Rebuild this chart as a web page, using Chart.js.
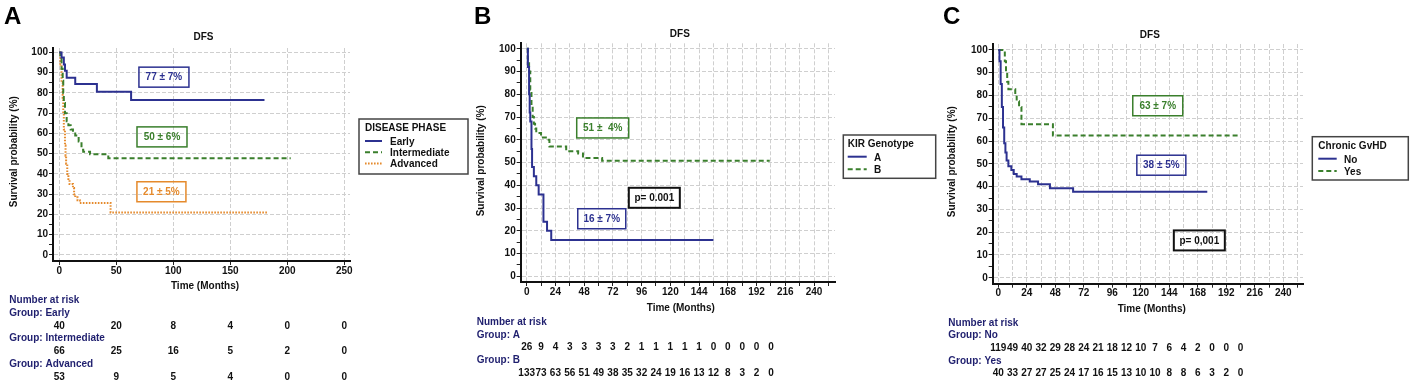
<!DOCTYPE html>
<html>
<head>
<meta charset="utf-8">
<script src="https://cdn.jsdelivr.net/npm/chart.js@4.4.1/dist/chart.umd.min.js"></script>
<style>
html, body { margin: 0; padding: 0; background: #fff; }
#wrap { position: relative; width: 1412px; height: 383px; overflow: hidden; background: #fff; }
canvas { position: absolute; top: 0; }
</style>
</head>
<body>
<div id="wrap">
  <canvas id="panelA" width="470" height="383" style="left:0px"></canvas>
  <canvas id="panelB" width="470" height="383" style="left:470px"></canvas>
  <canvas id="panelC" width="472" height="383" style="left:940px"></canvas>
</div>
<script>
// ---------- data ----------
// Panel A - disease phase (time in months, survival %)
var earlyTime = [0, 2, 4, 5, 6.5, 14, 33, 63, 180];
var earlySurv = [100, 97.5, 94, 91, 87.5, 84.4, 80.6, 76.5, 76.5];
var interTime = [0, 1, 2, 3, 3.5, 4, 5, 6.5, 8, 10, 12, 14, 17, 19.5, 21, 27, 43, 203];
var interSurv = [100, 97, 92, 86, 80, 75, 70, 66, 64, 62, 60, 59, 56, 52, 51, 49.7, 47.8, 47.8];
var advTime = [0, 1, 2, 3, 3.5, 4, 5, 5.5, 6, 7, 8, 9, 12, 13, 14, 16, 18, 45, 183];
var advSurv = [100, 94, 85, 77, 70, 62, 54, 49, 45, 40, 37, 35, 33, 30, 28.5, 27, 25.7, 21, 21];

// Panel B - KIR genotype
var kirATime = [0, 1, 2, 2.5, 3, 4, 4.5, 6, 8, 10, 14, 17, 20.5, 156];
var kirASurv = [100, 92, 80, 72, 68, 56, 48, 44, 40, 36, 24, 20, 16, 16];
var kirBTime = [0, 1, 2, 3, 4, 5, 6, 7, 8, 12, 16, 19, 33, 43, 47, 63, 203];
var kirBSurv = [100, 95, 90, 82, 75, 70, 67, 65, 63, 61, 60, 57, 55, 54, 52, 50.8, 50.8];

// Panel C - chronic GvHD
var gvhdNoTime = [0, 1, 2, 3, 4, 5, 6, 7, 8.5, 11, 13, 15.5, 19.5, 26.5, 33.5, 43.5, 63, 176];
var gvhdNoSurv = [100, 95, 85, 75, 66, 59, 55, 51.5, 49, 47.3, 45.5, 44.4, 43.2, 42.2, 41, 39.3, 37.8, 37.8];
var gvhdYesTime = [0, 5.5, 6.5, 7.5, 8.5, 14.3, 15.5, 17.5, 19.5, 46, 204];
var gvhdYesSurv = [100, 95, 90, 86, 82.7, 80, 77.5, 75, 67.4, 62.4, 62.4];

// number at risk tables
var riskTimesA = [0, 50, 100, 150, 200, 250];
var riskEarly = [40, 20, 8, 4, 0, 0];
var riskInter = [66, 25, 16, 5, 2, 0];
var riskAdv = [53, 9, 5, 4, 0, 0];

var riskTimesB = [0, 12, 24, 36, 48, 60, 72, 84, 96, 108, 120, 132, 144, 156, 168, 180, 192, 204];
var riskKirA = [26, 9, 4, 3, 3, 3, 3, 2, 1, 1, 1, 1, 1, 0, 0, 0, 0, 0];
var riskKirB = [133, 73, 63, 56, 51, 49, 38, 35, 32, 24, 19, 16, 13, 12, 8, 3, 2, 0];

var riskTimesC = riskTimesB;
var riskNo = [119, 49, 40, 32, 29, 28, 24, 21, 18, 12, 10, 7, 6, 4, 2, 0, 0, 0];
var riskYes = [40, 33, 27, 27, 25, 24, 17, 16, 15, 13, 10, 10, 8, 8, 6, 3, 2, 0];

// ---------- styling ----------
var FONT = '"Liberation Sans", Arial, sans-serif';
var BLUE = '#2c3190';
var GREEN = '#3a7f2c';
var ORANGE = '#e58a2c';
var NAVY = '#1f1f6e';
var GRID = '#cfcfcf';

var STYLES = {
    blue: { color: BLUE, dash: [] },
    green: { color: GREEN, dash: [5, 3] },
    orange: { color: ORANGE, dash: [1.6, 1.4] }
};

function pts(t, s) {
    return t.map(function (v, i) { return { x: v, y: s[i] }; });
}

function kmSet(label, t, s, style) {
    var st = STYLES[style];
    return {
        label: label,
        data: pts(t, s),
        borderColor: st.color,
        borderDash: st.dash,
        borderWidth: 2,
        stepped: 'before',
        pointRadius: 0,
        fill: false
    };
}

function txt(ctx, s, x, y, font, color, align) {
    ctx.font = font;
    ctx.fillStyle = color;
    ctx.textAlign = align || 'left';
    ctx.textBaseline = 'alphabetic';
    ctx.fillText(s, x, y);
}

function extras(p) {
    return {
        id: 'extras',
        afterDraw: function (chart) {
            var ctx = chart.ctx, a = chart.chartArea, xs = chart.scales.x, ys = chart.scales.y;
            var bold10 = 'bold 10px ' + FONT;
            ctx.save();

            txt(ctx, p.letter, p.letterX, 24, 'bold 24px ' + FONT, '#000');
            txt(ctx, 'DFS', (a.left + a.right) / 2 + 2, p.titleY, bold10, '#111', 'center');

            // axis titles
            ctx.save();
            ctx.translate(p.yTitle[0], p.yTitle[1]);
            ctx.rotate(-Math.PI / 2);
            ctx.font = bold10;
            ctx.fillStyle = '#111';
            ctx.textAlign = 'center';
            ctx.textBaseline = 'middle';
            ctx.fillText('Survival probability (%)', 0, 0);
            ctx.restore();
            txt(ctx, 'Time (Months)', p.xTitle[0], p.xTitle[1], bold10, '#111', 'center');

            // estimate boxes
            p.boxes.forEach(function (b) {
                var cx = xs.getPixelForValue(b.t), cy = ys.getPixelForValue(b.s);
                ctx.lineWidth = b.lw || 1.5;
                ctx.strokeStyle = b.color;
                ctx.setLineDash([]);
                ctx.strokeRect(cx - b.w / 2, cy - 10, b.w, 20);
                ctx.font = bold10;
                ctx.fillStyle = b.color;
                ctx.textAlign = 'center';
                ctx.textBaseline = 'middle';
                ctx.fillText(b.text, cx, cy + 0.5);
            });

            // legend
            var L = p.legend;
            ctx.lineWidth = 1.5;
            ctx.strokeStyle = '#444';
            ctx.setLineDash([]);
            ctx.strokeRect(L.box[0], L.box[1], L.box[2] - L.box[0], L.box[3] - L.box[1]);
            txt(ctx, L.title, L.x0, L.titleY, bold10, '#111');
            L.items.forEach(function (it, i) {
                var st = STYLES[it.style];
                var ly = L.lineY + i * L.step;
                ctx.beginPath();
                ctx.strokeStyle = st.color;
                ctx.lineWidth = 2;
                ctx.setLineDash(st.dash);
                ctx.moveTo(L.x0, ly);
                ctx.lineTo(L.x1, ly);
                ctx.stroke();
                ctx.setLineDash([]);
                txt(ctx, it.label, L.labelX, ly + 3.8, bold10, '#111');
            });

            // number at risk
            var R = p.risk, y = R.y0;
            txt(ctx, 'Number at risk', R.x, y, bold10, NAVY);
            R.groups.forEach(function (g) {
                y += R.step;
                txt(ctx, 'Group: ' + g.name, R.x, y, bold10, NAVY);
                y += R.step;
                g.values.forEach(function (v, i) {
                    txt(ctx, String(v), xs.getPixelForValue(R.times[i]), y, bold10, '#111', 'center');
                });
            });
            ctx.restore();
        }
    };
}

function gridColor(major) {
    return function (c) {
        return c.tick && Math.abs(c.tick.value % major) < 1e-6 ? GRID : 'rgba(0,0,0,0)';
    };
}

function buildPanel(canvasId, datasets, p) {
    var el = document.getElementById(canvasId);
    var tickFont = { family: FONT, size: 10, weight: 'bold' };
    return new Chart(el, {
        type: 'line',
        data: { datasets: datasets },
        options: {
            responsive: false,
            animation: false,
            layout: { padding: p.pad },
            plugins: { legend: { display: false }, tooltip: { enabled: false } },
            scales: {
                x: {
                    type: 'linear',
                    min: p.xMin,
                    max: p.xMax,
                    afterFit: function (s) { s.height = 30; },
                    ticks: {
                        stepSize: p.xStep,
                        autoSkip: false,
                        maxRotation: 0,
                        includeBounds: false,
                        padding: 0,
                        color: '#111',
                        font: tickFont,
                        callback: function (v) { return v % p.xLabelStep === 0 ? String(v) : ''; }
                    },
                    grid: { color: GRID, lineWidth: 1, tickLength: 4, tickColor: '#222' },
                    border: { display: true, color: '#111', width: 2, dash: [4, 2] }
                },
                y: {
                    type: 'linear',
                    min: p.yMin,
                    max: p.yMax,
                    afterFit: function (s) { s.width = p.yWidth; },
                    ticks: {
                        stepSize: 5,
                        autoSkip: false,
                        includeBounds: false,
                        padding: 1,
                        color: '#111',
                        font: tickFont,
                        callback: function (v) { return v % 10 === 0 ? String(v) : ''; }
                    },
                    grid: { color: gridColor(10), lineWidth: 1, tickLength: 4, tickColor: '#222' },
                    border: { display: true, color: '#111', width: 2, dash: [4, 2] }
                }
            }
        },
        plugins: [extras(p)]
    });
}

// Panel A
buildPanel('panelA', [
    kmSet('Early', earlyTime, earlySurv, 'blue'),
    kmSet('Intermediate', interTime, interSurv, 'green'),
    kmSet('Advanced', advTime, advSurv, 'orange')
], {
    letter: 'A', letterX: 4, titleY: 40,
    pad: { left: 0, top: 48, right: 120, bottom: 92 }, yWidth: 53,
    xMin: -5.5, xMax: 255, xStep: 50, xLabelStep: 50, yMin: -3, yMax: 102.2,
    yTitle: [14.2, 151.7], xTitle: [205, 289],
    boxes: [
        { text: '77 \u00b1 7%', t: 91.8, s: 87.8, w: 50, color: BLUE },
        { text: '50 \u00b1 6%', t: 90.1, s: 58.3, w: 50, color: GREEN },
        { text: '21 \u00b1 5%', t: 89.6, s: 31.2, w: 49, color: ORANGE }
    ],
    legend: {
        box: [359, 119, 468, 174], title: 'DISEASE PHASE', titleY: 130.7,
        x0: 365, x1: 382, labelX: 390, lineY: 141, step: 11.3,
        items: [{ label: 'Early', style: 'blue' }, { label: 'Intermediate', style: 'green' }, { label: 'Advanced', style: 'orange' }]
    },
    risk: {
        x: 9.3, y0: 303, step: 12.8, times: riskTimesA,
        groups: [{ name: 'Early', values: riskEarly }, { name: 'Intermediate', values: riskInter }, { name: 'Advanced', values: riskAdv }]
    }
});

// Panel B
buildPanel('panelB', [
    kmSet('A', kirATime, kirASurv, 'blue'),
    kmSet('B', kirBTime, kirBSurv, 'green')
], {
    letter: 'B', letterX: 4, titleY: 37,
    pad: { left: 0, top: 43.3, right: 105, bottom: 71 }, yWidth: 50.7,
    xMin: -5, xMax: 257.5, xStep: 12, xLabelStep: 24, yMin: -2.5, yMax: 102.4,
    yTitle: [11.2, 160.8], xTitle: [210.8, 310.5],
    boxes: [
        { text: '51 \u00b1  4%', t: 63.5, s: 65.2, w: 52, color: GREEN },
        { text: 'p= 0.001', t: 106.6, s: 34.5, w: 51, color: '#111', lw: 2 },
        { text: '16 \u00b1 7%', t: 62.7, s: 25.3, w: 48, color: BLUE }
    ],
    legend: {
        box: [373.3, 135, 465.7, 178.3], title: 'KIR Genotype', titleY: 147,
        x0: 377.7, x1: 396.7, labelX: 404, lineY: 156.7, step: 12.6,
        items: [{ label: 'A', style: 'blue' }, { label: 'B', style: 'green' }]
    },
    risk: {
        x: 6.7, y0: 325, step: 12.7, times: riskTimesB,
        groups: [{ name: 'A', values: riskKirA }, { name: 'B', values: riskKirB }]
    }
});

// Panel C
buildPanel('panelC', [
    kmSet('No', gvhdNoTime, gvhdNoSurv, 'blue'),
    kmSet('Yes', gvhdYesTime, gvhdYesSurv, 'green')
], {
    letter: 'C', letterX: 3, titleY: 38.3,
    pad: { left: 0, top: 44, right: 109, bottom: 69.3 }, yWidth: 52.7,
    xMin: -4.7, xMax: 256.6, xStep: 12, xLabelStep: 24, yMin: -2.6, yMax: 102.6,
    yTitle: [12.5, 161.7], xTitle: [211.7, 311.5],
    boxes: [
        { text: '63 \u00b1 7%', t: 134.3, s: 75.5, w: 50, color: GREEN },
        { text: '38 \u00b1 5%', t: 137.3, s: 49.4, w: 49, color: BLUE },
        { text: 'p= 0,001', t: 169.3, s: 16.4, w: 51, color: '#111', lw: 2 }
    ],
    legend: {
        box: [372.3, 136.7, 468.3, 180], title: 'Chronic GvHD', titleY: 149,
        x0: 378.3, x1: 396.7, labelX: 404, lineY: 158.7, step: 12.3,
        items: [{ label: 'No', style: 'blue' }, { label: 'Yes', style: 'green' }]
    },
    risk: {
        x: 8.3, y0: 325.7, step: 12.6, times: riskTimesC,
        groups: [{ name: 'No', values: riskNo }, { name: 'Yes', values: riskYes }]
    }
});
</script>
</body>
</html>
